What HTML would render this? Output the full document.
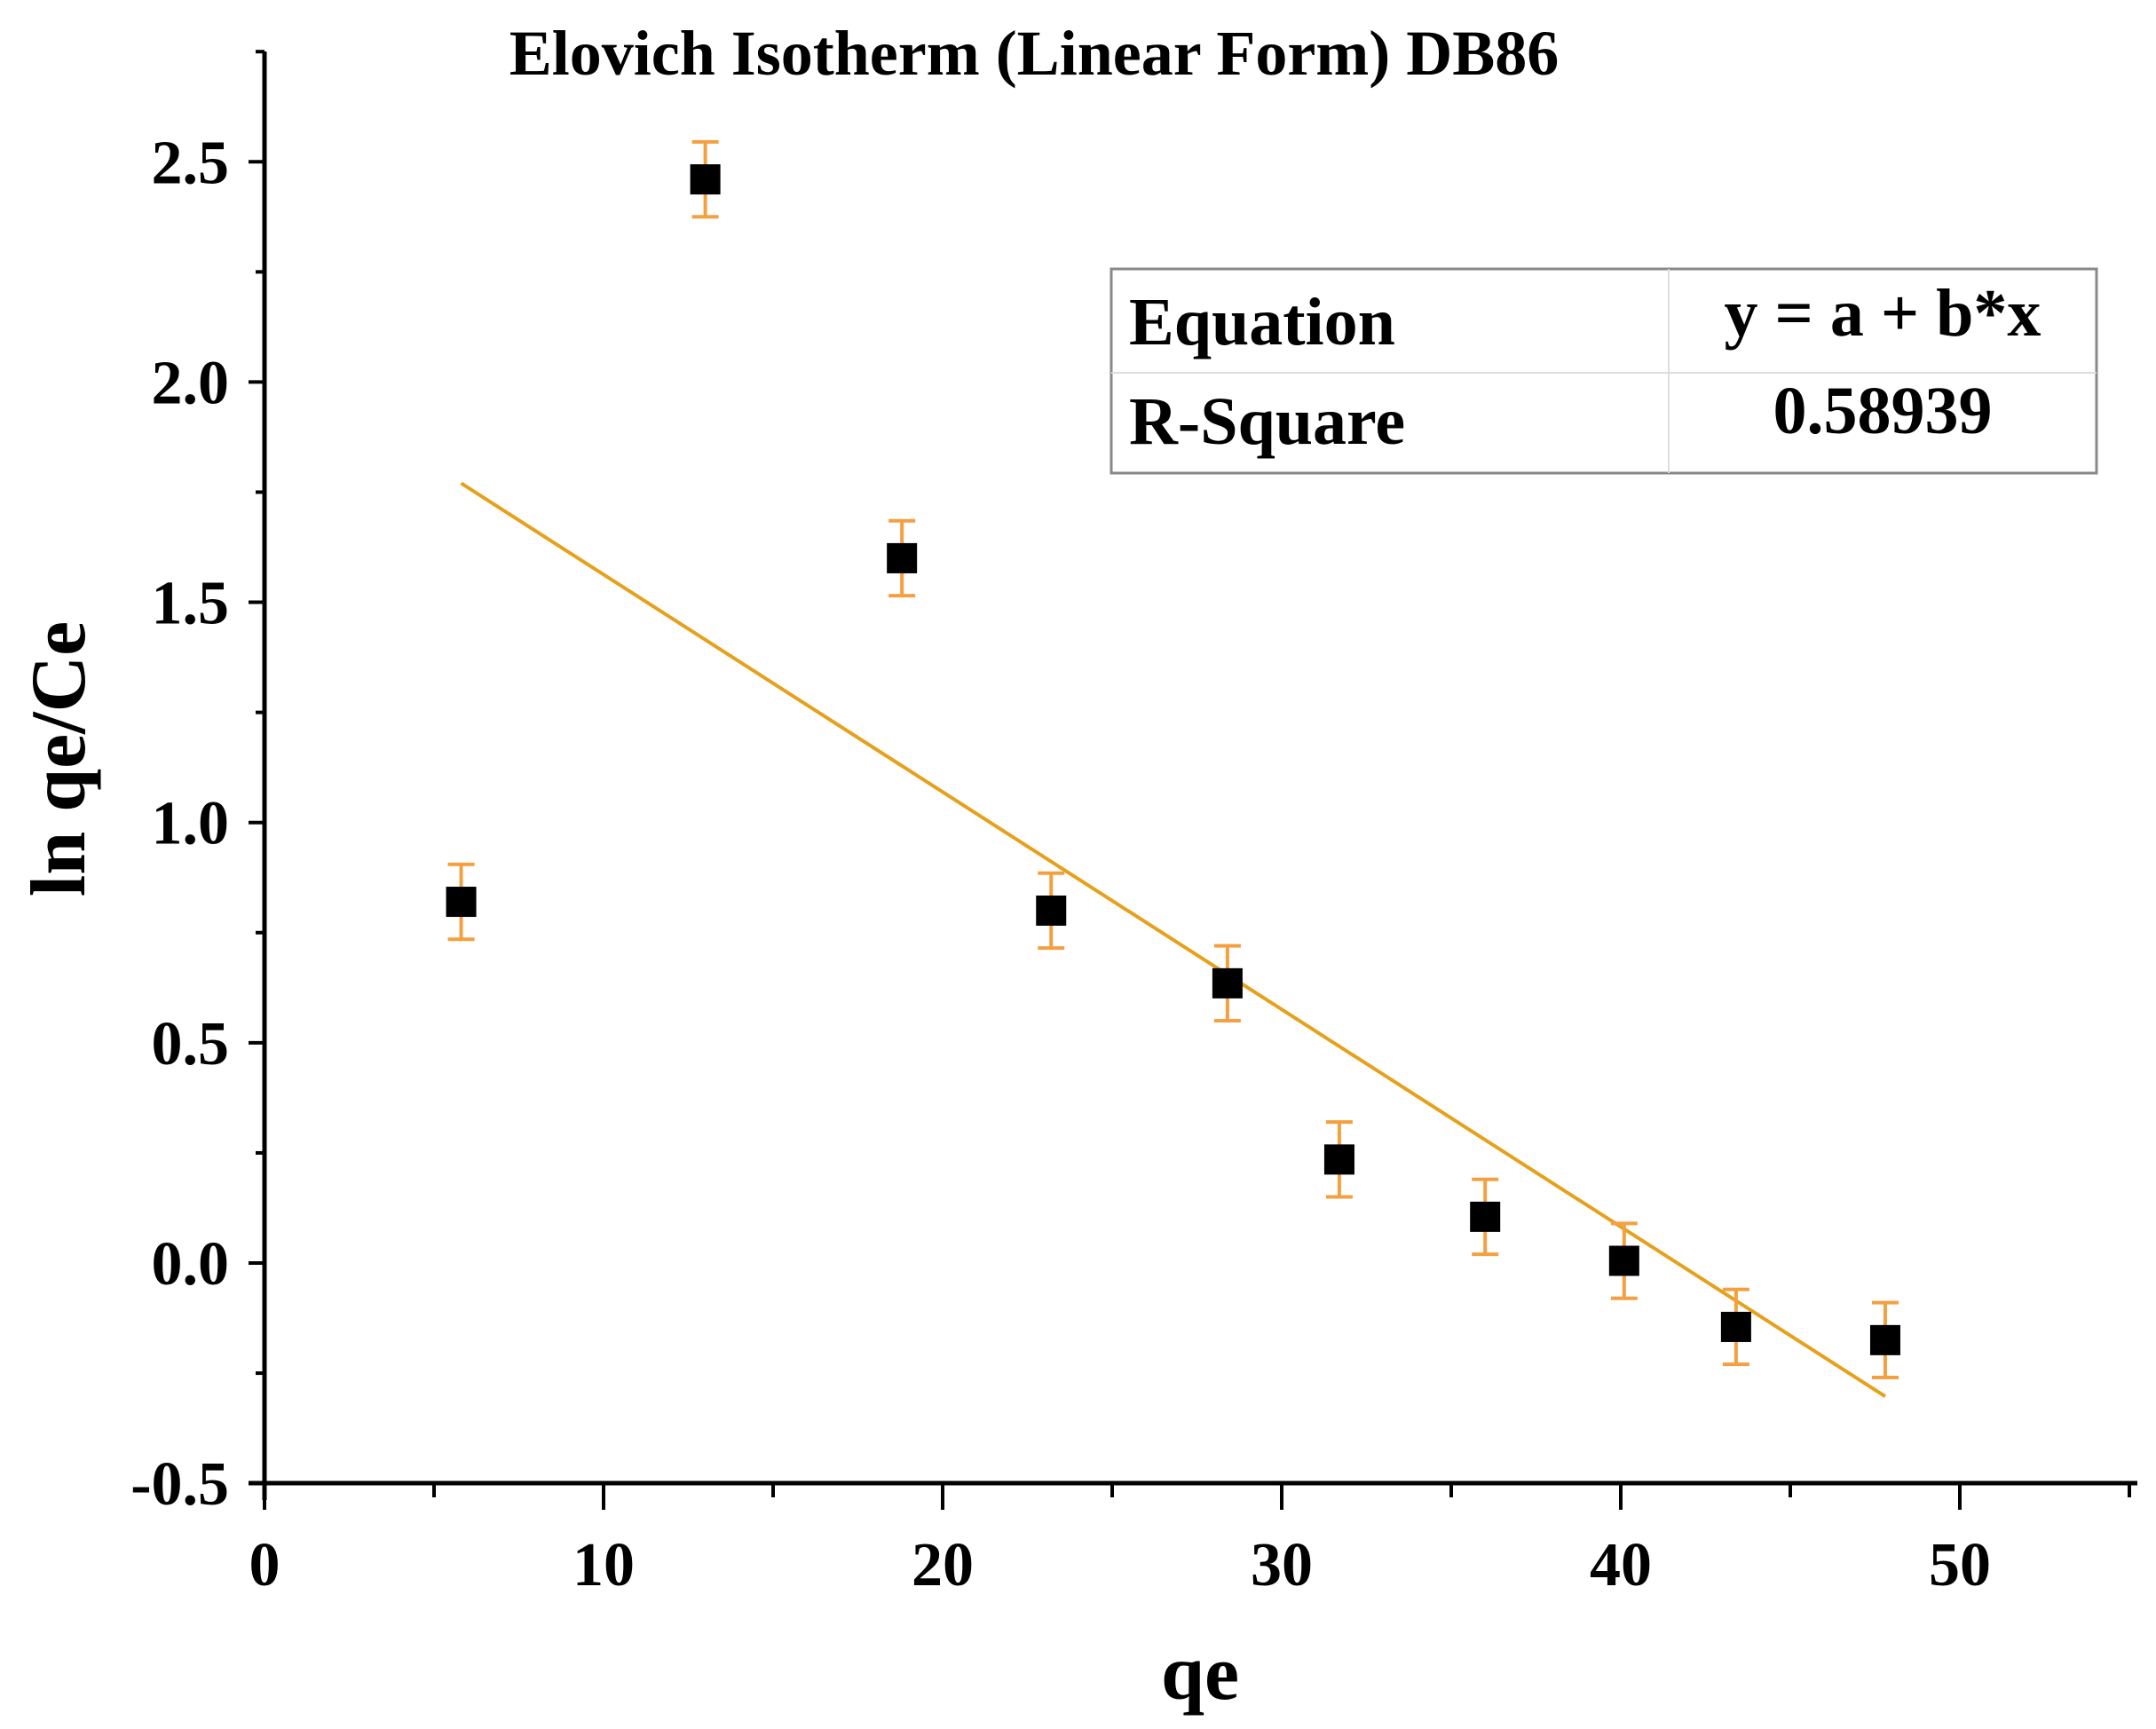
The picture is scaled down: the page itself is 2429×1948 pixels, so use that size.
<!DOCTYPE html>
<html><head><meta charset="utf-8"><style>
html,body{margin:0;padding:0;background:#fff;}
svg{display:block;font-family:"Liberation Serif",serif;font-weight:bold;}
</style></head><body>
<svg id="chart" width="2429" height="1948" viewBox="0 0 2429 1948" xmlns="http://www.w3.org/2000/svg">
<text x="1165" y="84" font-size="72" text-anchor="middle">Elovich Isotherm (Linear Form) DB86</text>
<g id="axes"></g>
<g id="fit"></g>
<g id="points"></g>
<g>
<rect x="1252" y="303" width="1110" height="230" fill="#fff" stroke="#888" stroke-width="3"/>
<line x1="1880" y1="303" x2="1880" y2="533" stroke="#ddd" stroke-width="2"/>
<line x1="1252" y1="420" x2="2362" y2="420" stroke="#ddd" stroke-width="2"/>
<text x="1272" y="388" font-size="76">Equation</text>
<text x="2121" y="378" font-size="76" text-anchor="middle">y = a + b*x</text>
<text x="1272" y="500" font-size="76">R-Square</text>
<text x="2121" y="488" font-size="76" text-anchor="middle">0.58939</text>
</g>
<text x="1352" y="1914" font-size="88" text-anchor="middle">qe</text>
<text transform="translate(95,855) rotate(-90)" font-size="88" text-anchor="middle">ln qe/Ce</text>
</svg>
<script>
const xValues=[5.8,13.0,18.8,23.2,28.4,31.7,36.0,40.1,43.4,47.8];
const yValues=[0.82,2.46,1.60,0.80,0.635,0.235,0.105,0.005,-0.145,-0.175];
const yErrors=[0.085,0.085,0.085,0.085,0.085,0.085,0.085,0.085,0.085,0.085];
const xTicks=[0,10,20,30,40,50];
const yTicks=[-0.5,0.0,0.5,1.0,1.5,2.0,2.5];
const yTickLabels=["-0.5","0.0","0.5","1.0","1.5","2.0","2.5"];
const NS="http://www.w3.org/2000/svg";
const X=v=>298+v*38.2;
const Y=v=>1423-v*496.3;
function mk(tag,attrs,parent,text){const e=document.createElementNS(NS,tag);for(const k in attrs)e.setAttribute(k,attrs[k]);if(text!==undefined)e.textContent=text;parent.appendChild(e);return e;}
const ax=document.getElementById('axes');
const xl=mk('line',{x1:280,y1:1671,x2:2408,y2:1671,stroke:'#000','stroke-width':5},ax);


const yl=mk('line',{x1:298,y1:58,x2:298,y2:1690,stroke:'#000','stroke-width':5},ax);


for(let v=0;v<=55;v+=5){const major=v%10===0;mk('line',{x1:X(v),y1:1671,x2:X(v),y2:1671+(major?30:16),stroke:'#000','stroke-width':4},ax);}
xTicks.forEach(v=>{const t=mk('text',{x:X(v),y:1786,'font-size':70,'text-anchor':'middle'},ax,String(v));

});
for(let v=-0.5;v<=2.76;v+=0.25){const major=Math.abs(v*2-Math.round(v*2))<1e-6;mk('line',{x1:298-(major?18:10),y1:Y(v),x2:298,y2:Y(v),stroke:'#000','stroke-width':4},ax);}
yTicks.forEach((v,i)=>{const t=mk('text',{x:258,y:Y(v)+24,'font-size':70,'text-anchor':'end'},ax,yTickLabels[i]);

});
const n=xValues.length;const mx=xValues.reduce((a,b)=>a+b)/n,my=yValues.reduce((a,b)=>a+b)/n;
let sxy=0,sxx=0;for(let i=0;i<n;i++){sxy+=(xValues[i]-mx)*(yValues[i]-my);sxx+=(xValues[i]-mx)**2;}
const b=sxy/sxx,a=my-b*mx;const x0=Math.min(...xValues),x1=Math.max(...xValues);
const fl=mk('line',{x1:X(x0),y1:Y(a+b*x0),x2:X(x1),y2:Y(a+b*x1),stroke:'#E6A11C','stroke-width':4},document.getElementById('fit'));


const pg=document.getElementById('points');
xValues.forEach((xv,i)=>{const g=mk('g',{},pg);


const cx=X(xv),top=Y(yValues[i]+yErrors[i]),bot=Y(yValues[i]-yErrors[i]);
mk('line',{x1:cx,y1:top,x2:cx,y2:bot,stroke:'#F5A040','stroke-width':4},g);
mk('line',{x1:cx-15,y1:top,x2:cx+15,y2:top,stroke:'#F5A040','stroke-width':4},g);
mk('line',{x1:cx-15,y1:bot,x2:cx+15,y2:bot,stroke:'#F5A040','stroke-width':4},g);
mk('rect',{x:cx-17,y:Y(yValues[i])-17,width:34,height:34,fill:'#000'},g);});
</script>
</body></html>
